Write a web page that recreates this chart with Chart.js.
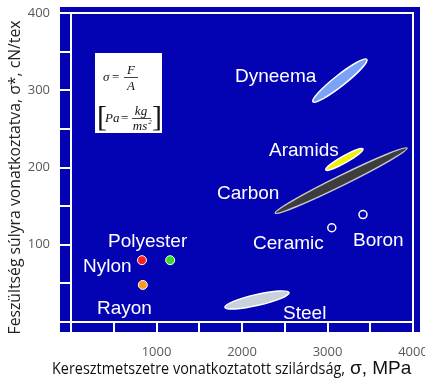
<!DOCTYPE html>
<html>
<head>
<meta charset="utf-8">
<script src="https://cdn.jsdelivr.net/npm/chart.js@4/dist/chart.umd.min.js"></script>
<style>
  html, body { margin: 0; padding: 0; background: #fff; }
  #wrap { width: 425px; height: 378px; }
</style>
</head>
<body>
<div id="wrap"><canvas id="chart"></canvas></div>
<script>
// fibres drawn as ellipses: strength range (MPa) vs tenacity range (cN/tex)
var ellipseNames = ['Dyneema', 'Aramids', 'Carbon', 'Steel'];
var ellipseStrengthLo = [2830, 2980, 2390, 1800];
var ellipseStrengthHi = [3460, 3415, 3930, 2550];
var ellipseTenacityLo = [285, 197, 141, 19];
var ellipseTenacityHi = [340, 224, 225, 38];

// fibres drawn as filled dots
var dotNames = ['Nylon', 'Polyester', 'Rayon'];
var dotStrength = [830, 1160, 840];
var dotTenacity = [80, 80, 48];

// fibres drawn as open rings
var ringNames = ['Ceramic', 'Boron'];
var ringStrength = [3050, 3415];
var ringTenacity = [122, 139];

// axis ticks
var xTickLabels = [1000, 2000, 3000, 4000];
var yTickLabels = [100, 200, 300, 400];

// styles
var blue = '#0303b3';
var ellipseFill = ['#7aa2f7', '#f0f00c', '#3d3d3d', '#c9d2dc'];
var ellipseStroke = ['#ffffff', '#ffffff', '#c8c8c8', '#ffffff'];
var ellipseHalfWidth = [5.5, 3.5, 5, 5.5];
var dotColors = ['#ff1f1f', '#3ad62a', '#ff9b1c'];

// label anchors (left edge, baseline) in data units
var labelAt = {
  Dyneema: [1918, 311], Aramids: [2316, 215], Carbon: [1708, 159],
  Ceramic: [2129, 94], Boron: [3298, 99], Polyester: [433, 97],
  Nylon: [140, 65], Rayon: [304, 11], Steel: [2480, 4]
};

function toPoints(xs, ys) {
  return xs.map(function (x, i) { return { x: x, y: ys[i] }; });
}

var backdrop = {
  id: 'backdrop',
  beforeDraw: function (chart) {
    var a = chart.chartArea, ctx = chart.ctx;
    ctx.save();
    ctx.fillStyle = blue;
    ctx.fillRect(a.left - 11, a.top - 6, a.right - a.left + 18, a.bottom - a.top + 16);
    ctx.restore();
  },
  beforeDatasetsDraw: function (chart) {
    var a = chart.chartArea, ctx = chart.ctx;
    var xs = chart.scales.x, ys = chart.scales.y;
    ctx.save();
    ctx.strokeStyle = '#ffffff';
    ctx.lineWidth = 2;
    ctx.strokeRect(a.left, a.top, a.right - a.left, a.bottom - a.top);

    ellipseNames.forEach(function (name, i) {
      var x1 = xs.getPixelForValue(ellipseStrengthLo[i]);
      var y1 = ys.getPixelForValue(ellipseTenacityLo[i]);
      var x2 = xs.getPixelForValue(ellipseStrengthHi[i]);
      var y2 = ys.getPixelForValue(ellipseTenacityHi[i]);
      var cx = (x1 + x2) / 2, cy = (y1 + y2) / 2;
      var half = Math.hypot(x2 - x1, y2 - y1) / 2;
      var ang = Math.atan2(y2 - y1, x2 - x1);
      ctx.beginPath();
      ctx.ellipse(cx, cy, half, ellipseHalfWidth[i], ang, 0, Math.PI * 2);
      ctx.fillStyle = ellipseFill[i];
      ctx.fill();
      ctx.lineWidth = 1.5;
      ctx.strokeStyle = ellipseStroke[i];
      ctx.stroke();
    });
    ctx.restore();
  },
  afterDatasetsDraw: function (chart) {
    var a = chart.chartArea, ctx = chart.ctx;
    var xs = chart.scales.x, ys = chart.scales.y;
    ctx.save();
    // material names
    ctx.fillStyle = '#ffffff';
    ctx.font = '19px "Liberation Sans", Arial, sans-serif';
    ctx.textAlign = 'left';
    ctx.textBaseline = 'alphabetic';
    Object.keys(labelAt).forEach(function (name) {
      var p = labelAt[name];
      ctx.fillText(name, xs.getPixelForValue(p[0]), ys.getPixelForValue(p[1]));
    });

    // formula box
    var bx = a.left + 24, by = a.top + 40;
    ctx.fillStyle = '#ffffff';
    ctx.fillRect(bx, by, 67, 80);
    ctx.fillStyle = '#111';
    ctx.strokeStyle = '#111';
    ctx.lineWidth = 0.8;
    var it = 'italic 13px "Liberation Serif", "DejaVu Serif", serif';
    var up = '13px "Liberation Serif", serif';
    ctx.font = it;
    ctx.textAlign = 'left';
    ctx.fillText('\u03c3', bx + 8, by + 28);
    ctx.font = up;
    ctx.fillText('=', bx + 17, by + 28);
    ctx.font = it;
    ctx.textAlign = 'center';
    ctx.fillText('F', bx + 36, by + 21);
    ctx.beginPath(); ctx.moveTo(bx + 29, by + 24.5); ctx.lineTo(bx + 43, by + 24.5); ctx.stroke();
    ctx.fillText('A', bx + 36, by + 37);

    ctx.font = '30px "Liberation Serif", serif';
    ctx.textAlign = 'left';
    ctx.fillText('[', bx + 2, by + 73);
    ctx.fillText(']', bx + 57, by + 73);
    ctx.font = it;
    ctx.fillText('Pa', bx + 10, by + 69);
    ctx.font = up;
    ctx.fillText('=', bx + 26, by + 69);
    ctx.font = it;
    ctx.textAlign = 'center';
    ctx.fillText('kg', bx + 46, by + 62);
    ctx.beginPath(); ctx.moveTo(bx + 37, by + 65.5); ctx.lineTo(bx + 56, by + 65.5); ctx.stroke();
    ctx.fillText('ms', bx + 45, by + 77);
    ctx.font = 'italic 7px "Liberation Serif", serif';
    ctx.fillText('2', bx + 55, by + 71);

    // x axis title: narrow text part, larger symbol part
    ctx.fillStyle = '#111';
    ctx.textAlign = 'left';
    ctx.textBaseline = 'alphabetic';
    ctx.font = '16px "Open Sans", sans-serif';
    ctx.fillText('Keresztmetszetre vonatkoztatott szilárdság,', a.left - 19, 374, 293);
    ctx.font = '19px "Liberation Sans", Arial, sans-serif';
    ctx.fillText('\u03c3, MPa', a.left + 279, 374, 73);

    // y axis title, placed as in the original figure
    ctx.fillStyle = '#222';
    ctx.font = '16px "Open Sans", sans-serif';
    ctx.textAlign = 'center';
    ctx.textBaseline = 'middle';
    ctx.translate(15, (a.top + a.bottom) / 2 + 10);
    ctx.rotate(-Math.PI / 2);
    ctx.fillText('Feszültség súlyra vonatkoztatva, \u03c3*, cN/tex', 0, 0, 314);
    ctx.restore();
  }
};

var ctx = document.getElementById('chart').getContext('2d');
var chart = new Chart(ctx, {
  type: 'scatter',
  data: {
    datasets: [
      {
        label: 'dots',
        data: toPoints(dotStrength, dotTenacity),
        backgroundColor: dotColors,
        borderColor: '#ffffff',
        borderWidth: 1,
        pointRadius: 4.5
      },
      {
        label: 'rings',
        data: toPoints(ringStrength, ringTenacity),
        backgroundColor: 'rgba(0,0,0,0)',
        borderColor: '#ffffff',
        borderWidth: 1.5,
        pointRadius: 4
      }
    ]
  },
  options: {
    responsive: true,
    maintainAspectRatio: false,
    animation: false,
    layout: { padding: { top: 13, right: 12, left: 0, bottom: 0 } },
    plugins: { legend: { display: false }, tooltip: { enabled: false } },
    scales: {
      x: {
        type: 'linear', min: 0, max: 4000,
        afterFit: function (s) { s.height = 56; s.paddingLeft = 0; s.paddingRight = 0; },
        border: { display: false },
        grid: { drawOnChartArea: false, drawTicks: true, tickLength: 10, color: '#ffffff', lineWidth: 2 },
        ticks: {
          stepSize: 500, autoSkip: false, maxRotation: 0, padding: 12,
          color: '#595959', font: { family: '"Open Sans"', size: 13 },
          callback: function (v) { return xTickLabels.indexOf(v) >= 0 ? v : ''; }
        },
        title: { display: false }
      },
      y: {
        type: 'linear', min: 0, max: 400,
        afterFit: function (s) { s.width = 71; s.paddingTop = 0; s.paddingBottom = 0; },
        border: { display: false },
        grid: { drawOnChartArea: false, drawTicks: true, tickLength: 11, color: '#ffffff', lineWidth: 2 },
        ticks: {
          stepSize: 50, autoSkip: false, padding: 10,
          color: '#595959', font: { family: '"Open Sans"', size: 13 },
          callback: function (v) { return yTickLabels.indexOf(v) >= 0 ? v : ''; }
        },
        title: { display: false }
      }
    }
  },
  plugins: [backdrop]
});
</script>
</body>
</html>
